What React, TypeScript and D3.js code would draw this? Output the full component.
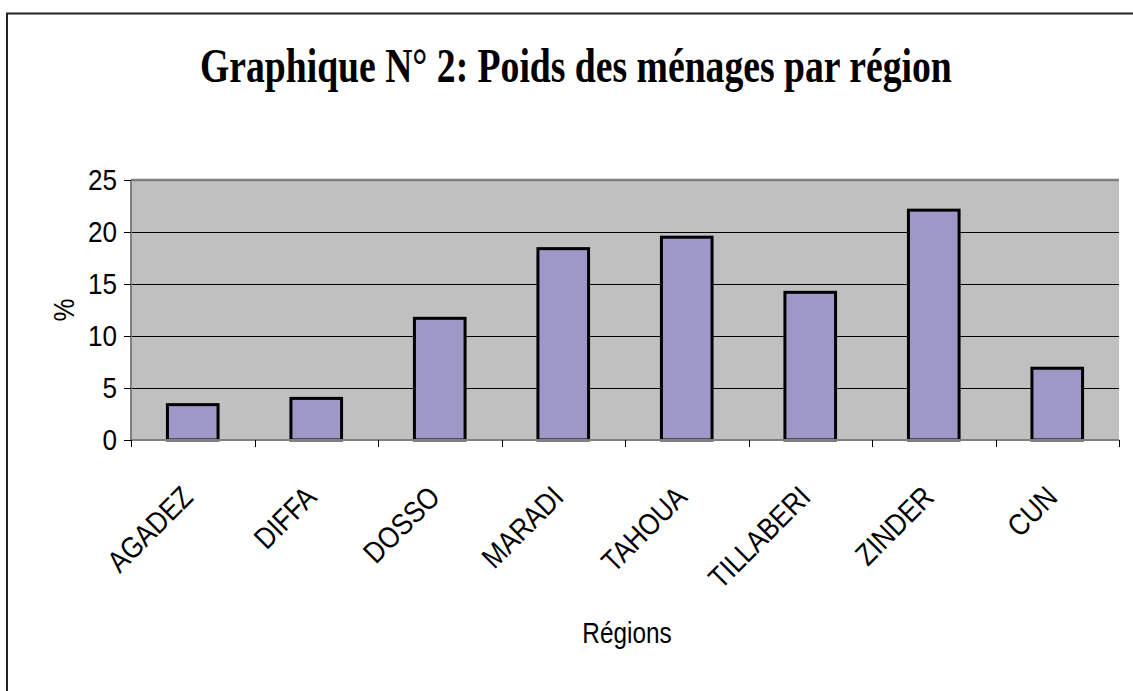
import React, {Component} from 'react';
import * as d3 from "d3"

const regions = ["AGADEZ", "DIFFA", "DOSSO", "MARADI", "TAHOUA", "TILLABERI", "ZINDER", "CUN"]
const poids = [3.4, 4.0, 11.7, 18.4, 19.5, 14.2, 22.1, 6.9]
const yTicks = [0, 5, 10, 15, 20, 25]

const titre = "Graphique N° 2: Poids des ménages par région"

interface AppProps {}
interface AppState {}

class App extends Component<AppProps, AppState> {
    svgRef = React.createRef<SVGSVGElement>()

    renderChart() {
        const width = 1133
        const height = 691
        const left = 131, right = 1119, top = 180, bottom = 440
        const sans = "'Liberation Sans', Arial, sans-serif"

        const svg = d3.select(this.svgRef.current)
        svg.selectAll("*").remove()
        svg.attr("width", width).attr("height", height)

        // cadre du graphique
        svg.append("rect")
            .attr("x", 7).attr("y", 13.5)
            .attr("width", 1150).attr("height", 720)
            .attr("fill", "#fff")
            .attr("stroke", "#222").attr("stroke-width", 2)

        // titre, resserré horizontalement comme dans l'original
        const titleG = svg.append("g")
        const titleText = titleG.append("text")
            .attr("x", 0).attr("y", 0)
            .attr("font-family", "'Liberation Serif', 'Times New Roman', serif")
            .attr("font-weight", "bold")
            .attr("font-size", 48)
            .text(titre)
        const natural = (titleText.node() as SVGTextElement).getComputedTextLength() || 900
        titleG.attr("transform", `translate(200,82) scale(${752 / natural},1)`)

        const x = d3.scaleBand<string>().domain(regions).range([left, right]).padding(0)
        const y = d3.scaleLinear().domain([0, 25]).range([bottom, top])

        // zone de tracé
        svg.append("rect")
            .attr("x", left).attr("y", top)
            .attr("width", right - left).attr("height", bottom - top)
            .attr("fill", "#c0c0c0")

        svg.append("g")
            .selectAll("line")
            .data(yTicks.filter(t => t > 0 && t < 25))
            .join("line")
            .attr("x1", left).attr("x2", right)
            .attr("y1", d => Math.round(y(d)) + 0.5).attr("y2", d => Math.round(y(d)) + 0.5)
            .attr("stroke", "#000").attr("stroke-width", 1)
            .attr("shape-rendering", "crispEdges")

        // bordure haute et gauche
        svg.append("line")
            .attr("x1", left).attr("x2", right)
            .attr("y1", top).attr("y2", top)
            .attr("stroke", "#808080").attr("stroke-width", 2.5)
        svg.append("line")
            .attr("x1", left).attr("x2", left)
            .attr("y1", top).attr("y2", bottom)
            .attr("stroke", "#808080").attr("stroke-width", 2)

        const barW = x.bandwidth() * 0.41
        svg.append("g")
            .selectAll("rect")
            .data(poids)
            .join("rect")
            .attr("x", (d, i) => (x(regions[i]) as number) + x.bandwidth() / 2 - barW / 2)
            .attr("y", d => y(d))
            .attr("width", barW)
            .attr("height", d => bottom - y(d))
            .attr("fill", "#9e98c9")
            .attr("stroke", "#000").attr("stroke-width", 3)

        // axe des x
        svg.append("line")
            .attr("x1", left).attr("x2", right)
            .attr("y1", bottom).attr("y2", bottom)
            .attr("stroke", "#808080").attr("stroke-width", 2)

        const bounds = regions.map(r => x(r) as number).concat([right])
        svg.append("g")
            .selectAll("line")
            .data(bounds)
            .join("line")
            .attr("x1", d => Math.round(d) + 0.5).attr("x2", d => Math.round(d) + 0.5)
            .attr("y1", bottom).attr("y2", bottom + 7)
            .attr("stroke", "#000").attr("stroke-width", 1)
            .attr("shape-rendering", "crispEdges")

        // axe des y
        svg.append("g")
            .selectAll("line")
            .data(yTicks)
            .join("line")
            .attr("x1", left - 7).attr("x2", left)
            .attr("y1", d => Math.round(y(d)) + 0.5).attr("y2", d => Math.round(y(d)) + 0.5)
            .attr("stroke", "#000").attr("stroke-width", 1)
            .attr("shape-rendering", "crispEdges")

        svg.append("g")
            .selectAll("g")
            .data(yTicks)
            .join("g")
            .attr("transform", d => `translate(117,${y(d) + 10}) scale(0.9,1)`)
            .append("text")
            .attr("text-anchor", "end")
            .attr("font-family", sans)
            .attr("font-size", 29)
            .text(d => d)

        svg.append("g")
            .attr("transform", "translate(74,310) rotate(-90) scale(0.86,1)")
            .append("text")
            .attr("text-anchor", "middle")
            .attr("font-family", sans)
            .attr("font-size", 30)
            .text("%")

        svg.append("g")
            .selectAll("g")
            .data(regions)
            .join("g")
            .attr("transform", d => `translate(${(x(d) as number) + x.bandwidth() / 2 + 2},499) rotate(-45) scale(0.86,1)`)
            .append("text")
            .attr("text-anchor", "end")
            .attr("font-family", sans)
            .attr("font-size", 30)
            .text(d => d)

        svg.append("g")
            .attr("transform", "translate(627,643) scale(0.84,1)")
            .append("text")
            .attr("text-anchor", "middle")
            .attr("font-family", sans)
            .attr("font-size", 29)
            .text("Régions")
    }

    componentDidMount() {
        this.renderChart()
    }

    public render(): JSX.Element {
        return (
            <svg ref={this.svgRef} style={{position: 'absolute', left: 0, top: 0, background: '#fff'}} />
        )
    }
}
export default App;
